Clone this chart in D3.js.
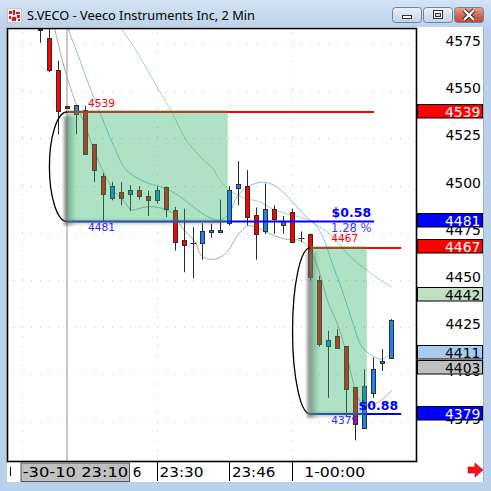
<!DOCTYPE html>
<html><head><meta charset="utf-8">
<script src="https://cdn.jsdelivr.net/npm/d3@7"></script>
<style>html,body{margin:0;padding:0;background:#b9d1ea;overflow:hidden}svg{display:block}</style>
</head><body>
<svg id="c" width="491" height="491"></svg>
<script>
// ---------------- data ----------------
const barTimes = ["23:04","23:06","23:08","23:10","23:12","23:14","23:16","23:18","23:20","23:22",
  "23:24","23:26","23:28","23:30","23:32","23:34","23:36","23:38","23:40","23:42",
  "23:44","23:46","23:48","23:50","23:52","23:54","23:56","23:58","00:00","00:02",
  "00:04","00:06","00:08","00:10","00:12","00:14","00:16","00:18","00:20","00:22"];
const opens  = [4583.0,4578.2,4561.3,4542.2,4537.8,4540.1,4521.8,4505.0,4493.4,4496.6,
  4495.8,4497.9,4494.7,4492.6,4499.3,4486.9,4471.3,4470.0,4469.7,4475.6,
  4475.6,4480.1,4499.0,4499.7,4484.6,4475.7,4487.8,4478.9,4485.8,4472.3,
  4474.5,4450.2,4415.1,4420.1,4414.8,4393.3,4371.7,4390.3,4405.9,4408.9];
const highs  = [4586.0,4583.7,4566.1,4542.2,4542.7,4542.3,4521.8,4506.6,4502.0,4501.8,
  4500.2,4499.7,4497.2,4499.7,4499.6,4488.7,4487.8,4478.0,4480.1,4479.8,
  4492.6,4499.7,4513.0,4508.2,4488.4,4501.1,4489.6,4483.9,4487.8,4475.7,
  4474.5,4452.3,4423.1,4424.0,4414.8,4393.3,4402.7,4408.9,4413.4,4429.3];
const lows   = [4575.7,4560.1,4527.1,4541.1,4527.1,4517.0,4502.0,4480.7,4492.2,4489.6,
  4486.5,4492.6,4483.9,4490.6,4483.3,4465.6,4454.1,4450.9,4460.7,4472.4,
  4475.6,4478.9,4489.6,4478.9,4460.7,4474.5,4474.5,4474.5,4470.0,4470.0,
  4449.7,4414.6,4387.6,4413.9,4377.9,4365.0,4371.7,4387.6,4401.8,4408.9];
const closes = [4582.3,4561.3,4539.5,4541.1,4542.7,4517.0,4508.2,4495.8,4499.7,4493.7,
  4497.9,4494.7,4492.6,4497.9,4487.8,4470.0,4468.7,4469.8,4475.7,4476.6,
  4476.6,4497.9,4500.7,4483.6,4474.5,4487.4,4482.1,4481.2,4470.0,4472.1,
  4451.4,4416.0,4418.2,4413.9,4392.1,4373.5,4393.9,4403.1,4407.2,4428.8];

// moving averages: [bar position, price]
const maFast = [[2.5,4595],[3.1,4583.7],[4.2,4569.5],[5.7,4550.0],[7.2,4532.2],[8.3,4519.9],[9.4,4509.2],
  [10.5,4504.8],[12,4501.3],[13.9,4498.6],[15.3,4495.0],[16.8,4489.7],[18.3,4484.4],[19.8,4481.7],
  [20.9,4484.4],[22,4495.0],[23.5,4500.4],[25,4501.8],[26.5,4498.6],[28,4491.5],[29.4,4484.4],
  [30.9,4477.3],[31.7,4469.4],[32.4,4459.4],[33.5,4445.3],[34.6,4429.3],[35.7,4415.1],[36.9,4409.8],
  [38,4408.1],[39.1,4411.6]];
const maMid = [[1.0,4595],[1.6,4583.7],[2.7,4562.4],[3.9,4544.7],[5.0,4532.2],[5.9,4519.9],[7.2,4505.7],
  [8.3,4496.8],[9.4,4491.5],[10.1,4487.1],[11.1,4488.0],[12,4488.9],[13.5,4488.0],[15,4484.4],
  [15.7,4478.2],[17.2,4470.3],[17.9,4463.0],[19.1,4460.9],[20.6,4463.9],[22,4474.0],[23.1,4478.7],
  [24.3,4477.3],[25.7,4474.1],[27.2,4471.7],[28.9,4470.9],[29.8,4467.4],[30.9,4455.9],[32,4438.1],
  [33.1,4425.8],[33.9,4413.4],[34.6,4399.2],[35.4,4386.8],[36.1,4383.8],[37.6,4385.4],[39.1,4391.7]];
const maSlow = [[8.4,4595],[9.0,4583.7],[10.5,4573.0],[12,4560.6],[13.5,4548.2],[14.6,4539.4],[16.1,4525.2],
  [17.6,4516.3],[18.3,4512.8],[19.2,4509.2],[19.8,4503.9],[21.3,4496.8],[22.8,4493.3],[24.3,4491.5],
  [25.7,4488.0],[27.2,4485.3],[28.7,4483.6],[30.2,4480.9],[31.3,4477.3],[32.4,4473.6],[34.3,4463.0],
  [36.1,4455.9],[37.6,4450.6],[39.1,4446.1]];

const axisTicks = [4575,4550,4525,4500,4475,4450,4425,4400,4375];
const priceTags = [4539,4481,4467,4442,4411,4403,4379];
const tagKinds  = ["red","blue","red","green","lblue","gray","blue"];

// range boxes
const rangeHigh  = [4539, 4467];
const rangeLow   = [4481, 4379];
const rangeStart = [3, 30];
const rangeEnd   = [20.85, 36.3];
const lineEnd    = [37.1, 40.1];
const moveText   = ["$0.58", "$0.88"];
const pctText    = ["1.28 %", ""];

const gridBars = [-2, 13, 28];
const timeTickBars = ["23:30","23:46","00:00"];
const timeTickLabels = ["23:30","23:46","1-00:00"];
const cursorLabel = "-30-10  23:10";
const cursorTail = "6";
const title = "S.VECO - Veeco Instruments Inc, 2 Min";

// ---------------- drawing ----------------
const svg = d3.select("#c");
const W = 491, H = 491;
const PL = 7, PT = 28, PR = 416, PB = 461;
const xi = d3.scaleLinear().domain([0, 39]).range([40, 391.2]);
const xt = t => xi(barTimes.indexOf(t));
const y = d3.scaleLinear().domain([4539, 4379]).range([112, 414]);

const defs = svg.append("defs");
function vgrad(id, stops, horiz) {
  const g = defs.append("linearGradient").attr("id", id)
    .attr("x1", 0).attr("y1", 0).attr("x2", horiz ? 1 : 0).attr("y2", horiz ? 0 : 1);
  stops.forEach(s => g.append("stop").attr("offset", s[0]).attr("stop-color", s[1]).attr("stop-opacity", s[2] == null ? 1 : s[2]));
}
vgrad("tbar", [["0%", "#d3e3f4"], ["100%", "#bcd3eb"]]);
vgrad("bgrad", [["0%", "#eef3fa"], ["50%", "#d5e1ef"], ["100%", "#c2d3e8"]]);
vgrad("cgrad", [["0%", "#e8a496"], ["50%", "#d06a58"], ["100%", "#c24a38"]]);
vgrad("shadL", [["0%", "#6a6a6a", 0.85], ["100%", "#6a6a6a", 0]], true);
vgrad("shadB", [["0%", "#6a6a6a", 0.6], ["100%", "#6a6a6a", 0]]);
defs.append("clipPath").attr("id", "clip").append("rect")
  .attr("x", PL + 0.5).attr("y", PT + 1).attr("width", PR - PL - 0.5).attr("height", PB - PT - 1);
defs.append("filter").attr("id", "soft").attr("x", "-20%").attr("y", "-20%").attr("width", "140%").attr("height", "140%")
  .append("feGaussianBlur").attr("stdDeviation", 1.6);

// window frame
svg.append("rect").attr("width", W).attr("height", H).attr("fill", "#b9d1ea");
svg.append("rect").attr("width", W).attr("height", 27).attr("fill", "url(#tbar)");
// icon
const ic = svg.append("g");
ic.append("rect").attr("x", 7.5).attr("y", 8.5).attr("width", 14).attr("height", 14).attr("fill", "#f4f4f4").attr("stroke", "#c8c8c8");
[[9,11,3,3],[13,10,2,5],[16,12,4,2],[9,16,2,3],[12,17,4,4],[17,15,3,3],[18,19,2,2]].forEach(r =>
  ic.append("rect").attr("x", r[0]).attr("y", r[1]).attr("width", r[2]).attr("height", r[3]).attr("fill", "#e0161b"));
svg.append("text").attr("x", 27).attr("y", 19.5).attr("font-family", "Noto Sans, DejaVu Sans, sans-serif")
  .attr("font-size", 13).attr("fill", "#000").attr("textLength", 228).attr("lengthAdjust", "spacingAndGlyphs").text(title);
// window buttons
[[392.5, "url(#bgrad)"], [423.5, "url(#bgrad)"], [454.5, "url(#cgrad)"]].forEach(b =>
  svg.append("rect").attr("x", b[0]).attr("y", 7.5).attr("width", 29).attr("height", 15).attr("rx", 3)
    .attr("fill", b[1]).attr("stroke", "#6f84a2"));
svg.append("rect").attr("x", 402.5).attr("y", 15.5).attr("width", 9).attr("height", 3).attr("fill", "#fff").attr("stroke", "#333");
svg.append("rect").attr("x", 433.5).attr("y", 10.5).attr("width", 9).attr("height", 8).attr("fill", "#fff").attr("stroke", "#333");
svg.append("rect").attr("x", 435.5).attr("y", 13.5).attr("width", 5).attr("height", 3).attr("fill", "#cdd9e8").attr("stroke", "#333");
svg.append("path").attr("d", "M464,10 L474,20 M474,10 L464,20").attr("stroke", "#3a2a2a").attr("stroke-width", 4.2);
svg.append("path").attr("d", "M464,10 L474,20 M474,10 L464,20").attr("stroke", "#fff").attr("stroke-width", 2.2);

// client area
svg.append("rect").attr("x", 7).attr("y", 27).attr("width", 477).attr("height", 455).attr("fill", "#fff");

// plot
const plot = svg.append("g").attr("clip-path", "url(#clip)");
// dotted grid
axisTicks.forEach(v => {
  d3.range(-3, 42).forEach(k => {
    plot.append("rect").attr("x", Math.round(xi(k))).attr("y", Math.round(y(v))).attr("width", 1).attr("height", 1).attr("fill", "#c4c4c4");
  });
});
gridBars.forEach(b => {
  plot.append("line").attr("x1", Math.round(xi(b)) + 0.5).attr("x2", Math.round(xi(b)) + 0.5)
    .attr("y1", PT + 4).attr("y2", PB).attr("stroke", "#c4c4c4").attr("stroke-dasharray", "1,8.5");
});
// session / start line
plot.append("line").attr("x1", xi(rangeStart[0])).attr("x2", xi(rangeStart[0])).attr("y1", PT).attr("y2", PB)
  .attr("stroke", "#b6b6b6").attr("stroke-width", 1.5);

// moving averages
const line = d3.line().x(d => xi(d[0])).y(d => y(d[1])).curve(d3.curveCatmullRom);
plot.append("path").attr("d", line(maSlow)).attr("fill", "none").attr("stroke", "#a9d3ab").attr("stroke-width", 1);
plot.append("path").attr("d", line(maFast)).attr("fill", "none").attr("stroke", "#8dbbe6").attr("stroke-width", 1);
plot.append("path").attr("d", line(maMid)).attr("fill", "none").attr("stroke", "#ababab").attr("stroke-width", 1);

// candles
opens.forEach((o, i) => {
  const c = closes[i];
  const cx = Math.round(xi(i));
  const g = plot.append("g");
  g.append("line").attr("x1", cx + 0.5).attr("x2", cx + 0.5).attr("y1", y(highs[i])).attr("y2", y(lows[i]))
    .attr("stroke", "#2b2b2b").attr("stroke-width", 1);
  if (Math.abs(o - c) < 0.5) {
    g.append("line").attr("x1", cx - 2.5).attr("x2", cx + 3.5).attr("y1", Math.round(y(c)) + 0.5).attr("y2", Math.round(y(c)) + 0.5)
      .attr("stroke", "#2b2b2b");
  } else {
    const top = Math.round(y(Math.max(o, c))), bot = Math.round(y(Math.min(o, c)));
    g.append("rect").attr("x", cx - 1.5).attr("y", top + 0.5).attr("width", 4).attr("height", Math.max(1, bot - top))
      .attr("fill", c > o ? "#1c84ec" : "#ff0000").attr("stroke", "#2e2e2e").attr("stroke-width", 1);
  }
});

// range levels, arcs, boxes
rangeHigh.forEach((hi, k) => {
  const lo = rangeLow[k];
  const x0 = xi(rangeStart[k]), x1 = xi(rangeEnd[k]), xe = xi(lineEnd[k]);
  plot.append("line").attr("x1", x0).attr("x2", xe).attr("y1", y(hi)).attr("y2", y(hi)).attr("stroke", "#ff0000").attr("stroke-width", 2);
  plot.append("line").attr("x1", x0).attr("x2", xe).attr("y1", y(lo)).attr("y2", y(lo)).attr("stroke", "#0000ff").attr("stroke-width", 2.2);
  const yt = y(hi), yb = y(lo);
  const ry = (yb - yt) / 2;
  plot.append("path").attr("d", `M${x0},${yt} A17.6,${ry} 0 0 0 ${x0},${yb}`)
    .attr("fill", "none").attr("stroke", "#000").attr("stroke-width", 1.3);
  // shadow at left and bottom edges
  const sh = plot.append("g").attr("filter", "url(#soft)");
  sh.append("rect").attr("x", x0 - 3).attr("y", yt + 4).attr("width", 12).attr("height", yb - yt)
    .attr("fill", "url(#shadL)");
  sh.append("rect").attr("x", x0).attr("y", yb - 1).attr("width", x1 - x0 - 4).attr("height", 5)
    .attr("fill", "url(#shadB)");
  plot.append("rect").attr("x", x0).attr("y", yt - 2).attr("width", x1 - x0).attr("height", yb - yt + 3)
    .attr("fill", "rgb(46,175,100)").attr("fill-opacity", 0.38);
});

// range annotations
const ann = svg.append("g").attr("font-family", "DejaVu Sans, sans-serif");
rangeHigh.forEach((hi, k) => {
  const lo = rangeLow[k];
  const x0 = xi(rangeStart[k]), xe = xi(lineEnd[k]);
  ann.append("text").attr("x", x0 + 21).attr("y", y(hi) - 5.5).attr("font-size", 11).attr("fill", "#ff0000")
    .attr("textLength", 27).attr("lengthAdjust", "spacingAndGlyphs").text(hi);
  ann.append("text").attr("x", x0 + 21).attr("y", y(lo) + 10).attr("font-size", 11).attr("fill", "#2a2aff")
    .attr("textLength", 27).attr("lengthAdjust", "spacingAndGlyphs").text(lo);
  ann.append("text").attr("x", xe - 42.5).attr("y", y(lo) - 4).attr("font-size", 13).attr("font-weight", "bold")
    .attr("fill", "#0000ff").attr("textLength", 39.5).attr("lengthAdjust", "spacingAndGlyphs").text(moveText[k]);
  if (pctText[k]) {
    ann.append("text").attr("x", xe - 43).attr("y", y(lo) + 10.5).attr("font-size", 12.5).attr("fill", "#3a3aff")
      .attr("textLength", 40.5).attr("lengthAdjust", "spacingAndGlyphs").text(pctText[k]);
  }
});

// plot border
svg.append("rect").attr("x", PL + 0.5).attr("y", PT + 0.5).attr("width", PR - PL).attr("height", PB - PT)
  .attr("fill", "none").attr("stroke", "#000").attr("stroke-width", 1.6);
svg.append("line").attr("x1", 483.5).attr("x2", 483.5).attr("y1", 27).attr("y2", 482).attr("stroke", "#9fb2c8");

// right axis labels
const ax = svg.append("g").attr("font-family", "DejaVu Sans, sans-serif").attr("font-size", 14);
axisTicks.forEach(v => {
  ax.append("text").attr("x", 481).attr("y", y(v) + 2).attr("text-anchor", "end").attr("fill", "#000")
    .attr("textLength", 35.5).attr("lengthAdjust", "spacingAndGlyphs").text(v);
});
const tagStyle = {
  red: ["#ff0000", "#fff"], blue: ["#0000ff", "#fff"], green: ["#c2dec3", "#000"],
  lblue: ["#a8caf0", "#000"], gray: ["#c0c0c0", "#000"]
};
priceTags.forEach((v, k) => {
  const st = tagStyle[tagKinds[k]];
  const cy = Math.round(y(v) - 1.5);
  ax.append("rect").attr("x", 417.5).attr("y", cy - 7 + 0.5).attr("width", 65).attr("height", 13.5)
    .attr("fill", st[0]).attr("stroke", "#000");
  ax.append("text").attr("x", 480.5).attr("y", cy + 5.5).attr("text-anchor", "end").attr("fill", st[1])
    .attr("textLength", 35.5).attr("lengthAdjust", "spacingAndGlyphs").text(v);
});

// time axis
const ta = svg.append("g").attr("font-family", "DejaVu Sans, sans-serif").attr("font-size", 13.5).attr("fill", "#000");
ta.append("line").attr("x1", 10.5).attr("x2", 10.5).attr("y1", 467).attr("y2", 476).attr("stroke", "#000");
ta.append("rect").attr("x", 21).attr("y", 463).attr("width", 108.5).attr("height", 18.5)
  .attr("fill", "#c0c0c0").attr("stroke", "#555").attr("stroke-width", 1);
ta.append("text").attr("x", 22.7).attr("y", 477).attr("textLength", 105.5).attr("lengthAdjust", "spacingAndGlyphs").text(cursorLabel);
ta.append("text").attr("x", 132.7).attr("y", 477).text(cursorTail);
const tOff = [2, 2.4, 11.7], tLen = [44, 43.5, 61];
timeTickBars.forEach((t, k) => {
  const tx = Math.round(xt(t)) + 0.5;
  ta.append("line").attr("x1", tx).attr("x2", tx).attr("y1", 462).attr("y2", 481).attr("stroke", "#000");
  ta.append("text").attr("x", tx + tOff[k]).attr("y", 477).attr("textLength", tLen[k])
    .attr("lengthAdjust", "spacingAndGlyphs").text(timeTickLabels[k]);
});

// red arrow
svg.append("path").attr("d", "M468,467 L475,467 L475,463 L483,470 L475,477 L475,473 L468,473 Z")
  .attr("fill", "#ff1010").attr("stroke", "#b00000").attr("stroke-width", 0.6);
</script>
</body></html>
